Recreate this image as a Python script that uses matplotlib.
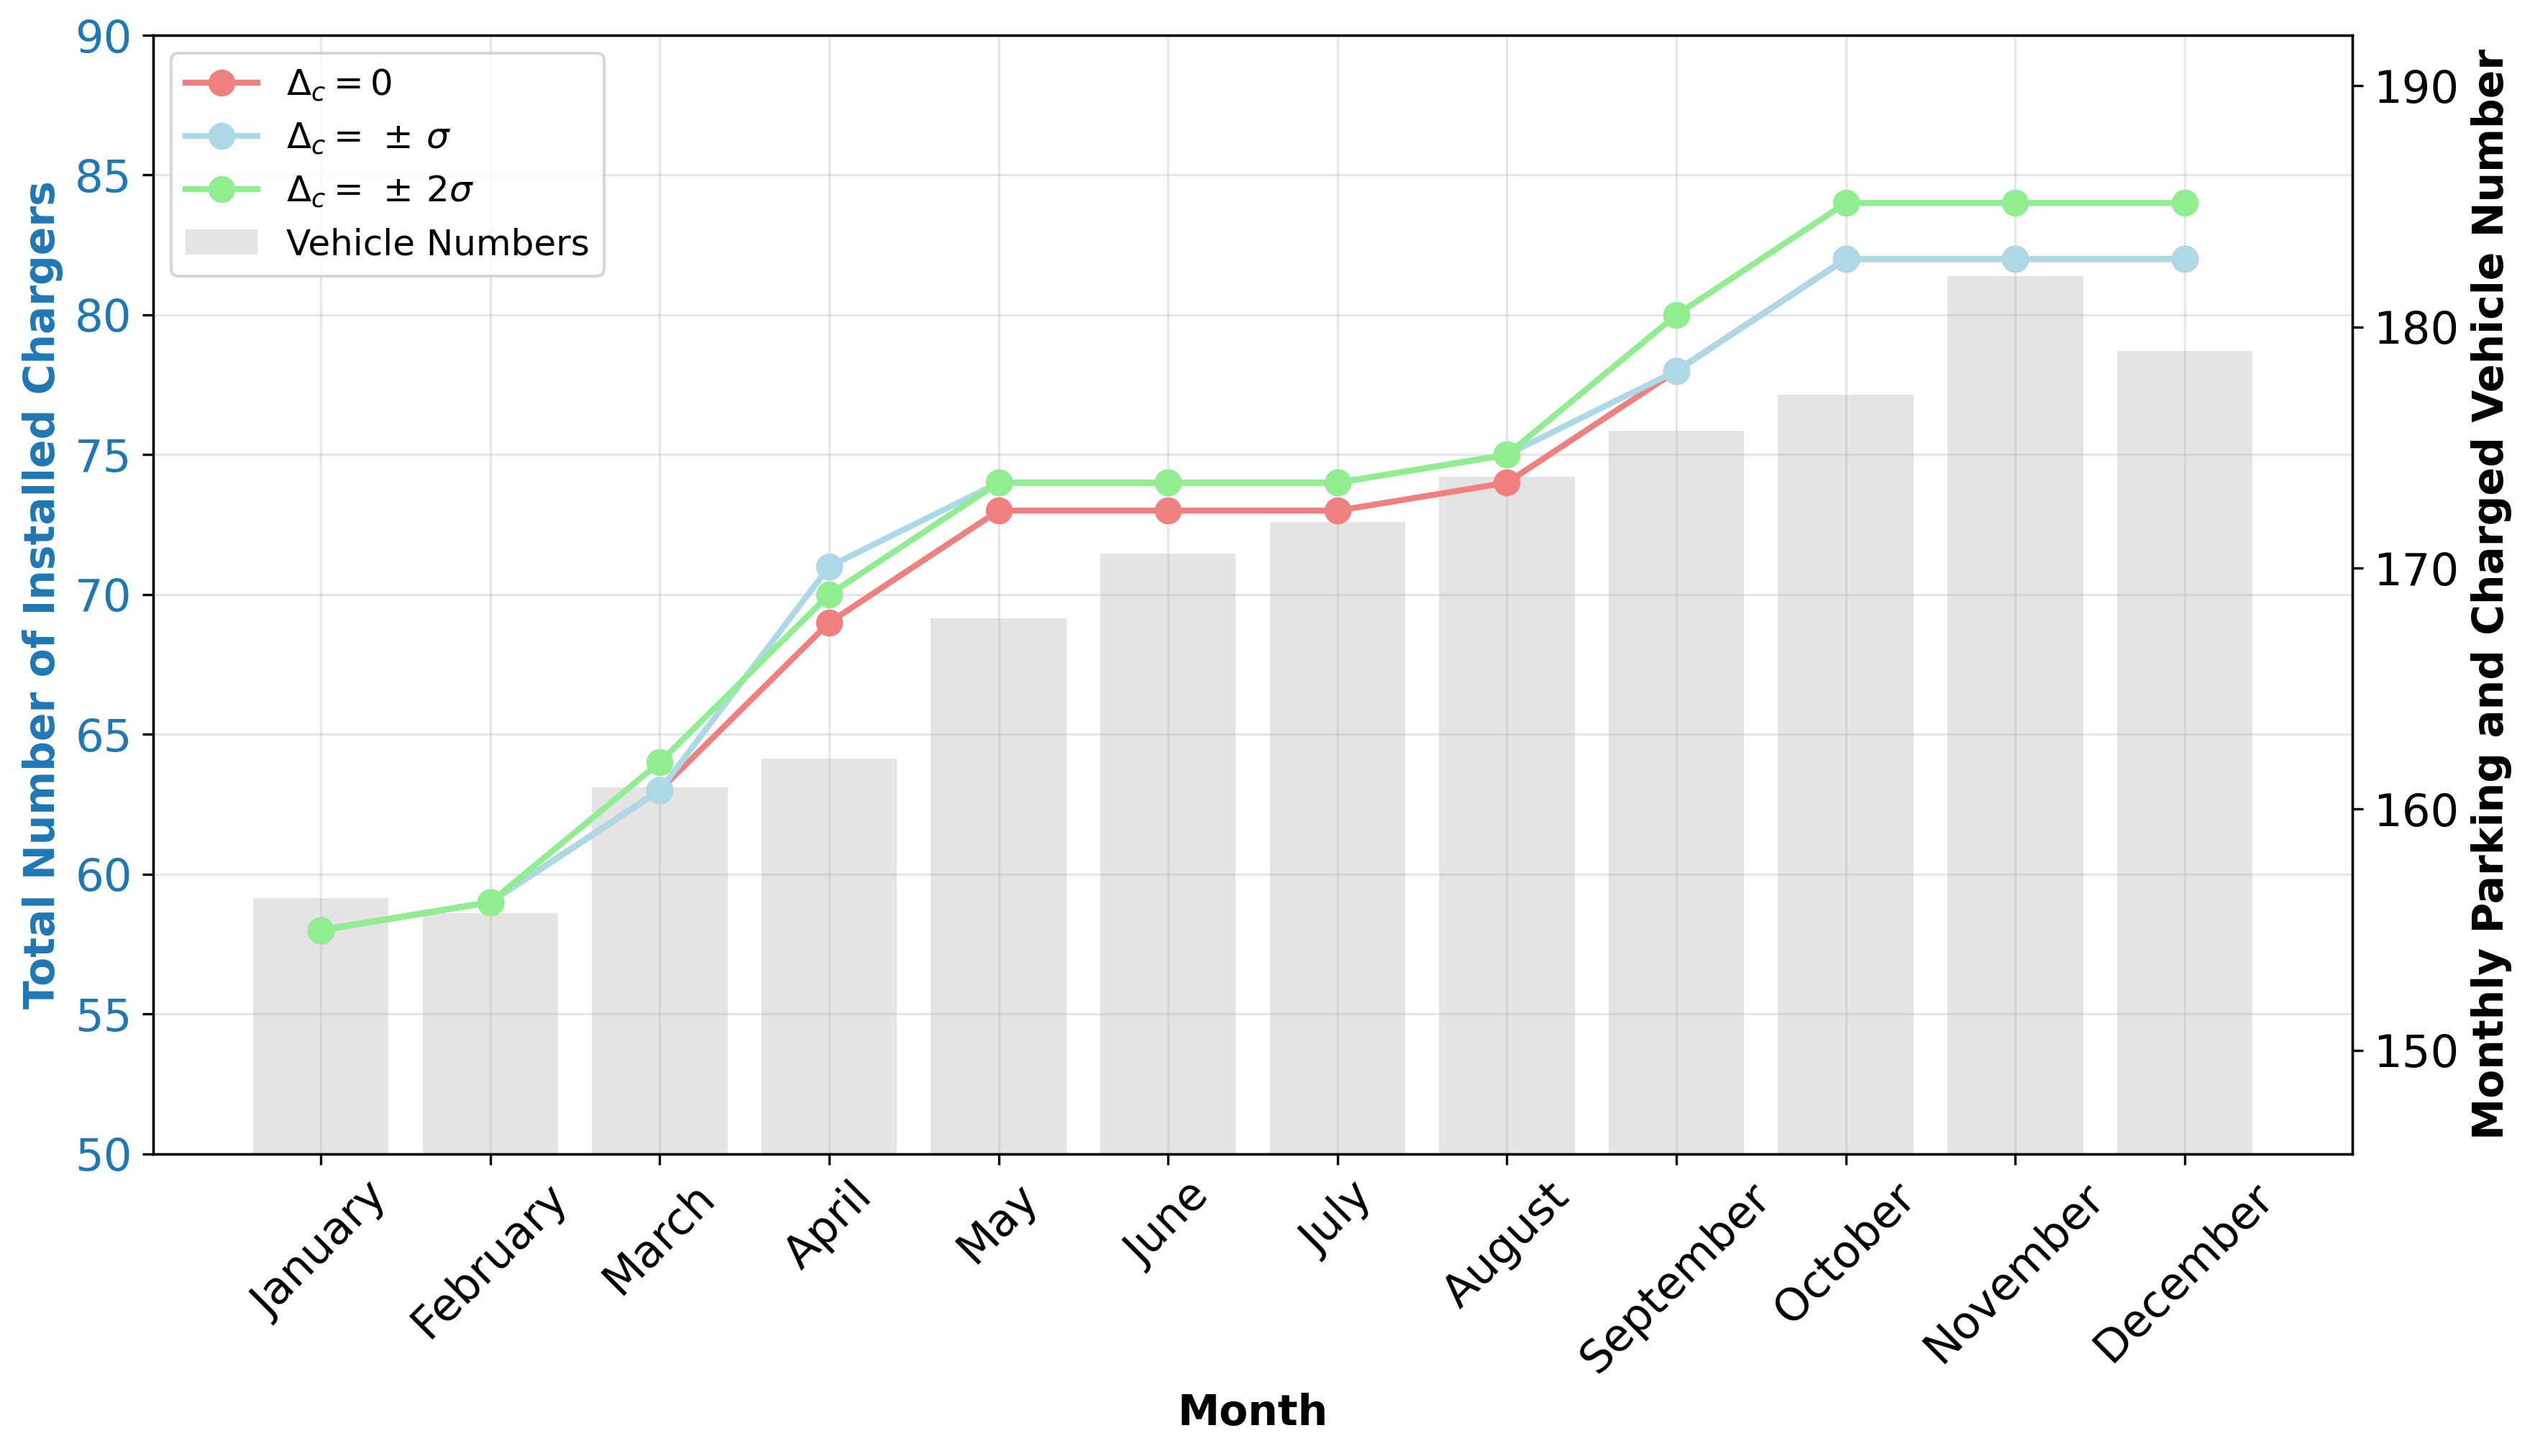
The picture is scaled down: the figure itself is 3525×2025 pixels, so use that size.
import numpy as np
import matplotlib
matplotlib.use("Agg")
from matplotlib import pyplot as plt

months = ['January', 'February', 'March', 'April', 'May', 'June', 'July',
          'August', 'September', 'October', 'November', 'December']
chargers_0 = [58, 59, 63, 69, 73, 73, 73, 74, 78, 82, 82, 82]
chargers_1s = [58, 59, 63, 71, 74, 74, 74, 75, 78, 82, 82, 82]
chargers_2s = [58, 59, 64, 70, 74, 74, 74, 75, 80, 84, 84, 84]
vehicles = [156.3, 155.7, 160.9, 162.1, 167.9, 170.6, 171.9, 173.8, 175.7, 177.2, 182.1, 179.0]

fig, ax1 = plt.subplots(figsize=(11.75, 6.75), dpi=300)
fig.subplots_adjust(left=0.0604, right=0.928, top=0.9758, bottom=0.2075)
ax2 = ax1.twinx()

x = np.arange(len(months))
bars = ax2.bar(x, vehicles, width=0.8, color='lightgray', alpha=0.6, label='Vehicle Numbers')
ax2.set_ylim(min(vehicles) - 10, max(vehicles) + 10)
ax2.set_ylabel('Monthly Parking and Charged Vehicle Number', fontsize=14, fontweight='bold')
ax2.tick_params(axis='y', labelsize=15)

# lines on top of bars
ax1.set_zorder(ax2.get_zorder() + 1)
ax1.patch.set_visible(False)

l1, = ax1.plot(x, chargers_0, '-o', color='lightcoral', lw=2, ms=8, label=r'$\Delta_c = 0$')
l2, = ax1.plot(x, chargers_1s, '-o', color='lightblue', lw=2, ms=8, label=r'$\Delta_c = \,\pm\,\sigma$')
l3, = ax1.plot(x, chargers_2s, '-o', color='lightgreen', lw=2, ms=8, label=r'$\Delta_c = \,\pm\,2\sigma$')

ax1.set_ylim(50, 90)
ax1.set_xticks(x)
ax1.set_xticklabels(months, rotation=45)
ax1.tick_params(axis='x', labelsize=15)
ax1.tick_params(axis='y', labelsize=15, labelcolor='tab:blue')
ax1.set_xlabel('Month', fontsize=14, fontweight='bold')
ax1.set_ylabel('Total Number of Installed Chargers', fontsize=14, fontweight='bold', color='tab:blue')
ax1.grid(True, alpha=0.3)

ax1.legend(handles=[l1, l2, l3, bars], loc='upper left', fontsize=12)

fig.savefig('out.png')
